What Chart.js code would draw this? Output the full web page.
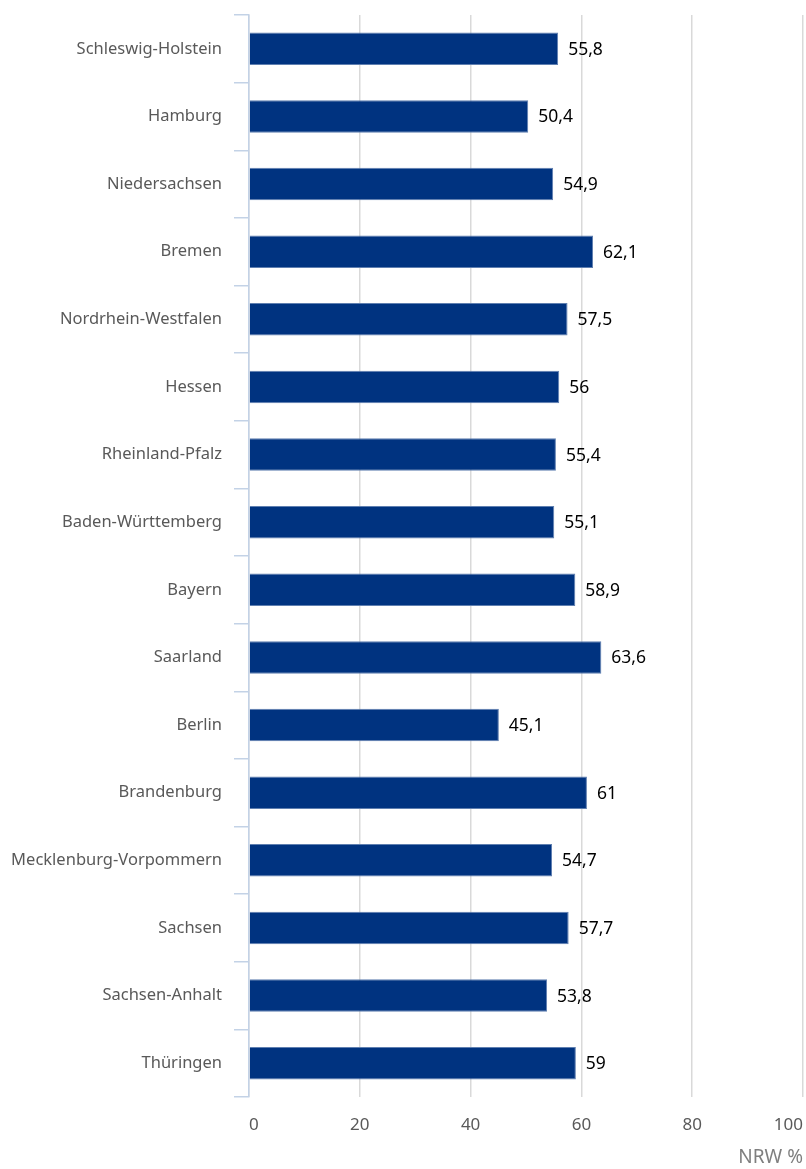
<!DOCTYPE html>
<html>
<head>
<meta charset="utf-8">
<script src="https://cdn.jsdelivr.net/npm/chart.js@4"></script>
<style>
  html, body { margin: 0; padding: 0; background: #fff; }
  #wrap { width: 806px; height: 1169px; }
</style>
</head>
<body>
<div id="wrap"><canvas id="nrwChart"></canvas></div>
<script>
const states = [
  'Schleswig-Holstein', 'Hamburg', 'Niedersachsen', 'Bremen',
  'Nordrhein-Westfalen', 'Hessen', 'Rheinland-Pfalz', 'Baden-Württemberg',
  'Bayern', 'Saarland', 'Berlin', 'Brandenburg',
  'Mecklenburg-Vorpommern', 'Sachsen', 'Sachsen-Anhalt', 'Thüringen'
];
const nrwValues = [55.8, 50.4, 54.9, 62.1, 57.5, 56, 55.4, 55.1, 58.9, 63.6, 45.1, 61, 54.7, 57.7, 53.8, 59];
const xTicks = [0, 20, 40, 60, 80, 100];

const fontFamily = "'Noto Sans', 'Open Sans', sans-serif";

// labels at the end of each bar, German number format
const barValueLabels = {
  id: 'barValueLabels',
  afterDatasetsDraw(chart) {
    const ctx = chart.ctx;
    const meta = chart.getDatasetMeta(0);
    ctx.save();
    ctx.font = '17.5px ' + fontFamily;
    ctx.fillStyle = '#000';
    ctx.textAlign = 'left';
    ctx.textBaseline = 'middle';
    meta.data.forEach((bar, i) => {
      const txt = String(nrwValues[i]).replace('.', ',');
      ctx.fillText(txt, bar.x + 10, bar.y + 1);
    });
    ctx.restore();
  }
};

const ctx = document.getElementById('nrwChart').getContext('2d');
const chart = new Chart(ctx, {
  type: 'bar',
  data: {
    labels: states,
    datasets: [{
      label: 'NRW %',
      data: nrwValues,
      backgroundColor: '#003380',
      borderColor: '#5f7fb0',
      borderWidth: 1,
      barPercentage: 0.48,
      categoryPercentage: 1
    }]
  },
  options: {
    indexAxis: 'y',
    responsive: true,
    maintainAspectRatio: false,
    animation: false,
    layout: { padding: { top: 15, right: 3, left: 0, bottom: 0 } },
    plugins: {
      legend: { display: false },
      tooltip: { enabled: false }
    },
    scales: {
      x: {
        min: 0,
        max: 100,
        afterBuildTicks: (scale) => { scale.ticks = xTicks.map(v => ({ value: v })); },
        afterFit: (scale) => {
          scale.height = 72;
          scale.paddingLeft = 0;
          scale.paddingRight = 0;
        },
        border: { display: false },
        grid: { color: '#d9d9d9', lineWidth: 1.5, drawTicks: false },
        ticks: {
          align: 'inner',
          padding: 18,
          color: '#595959',
          font: { family: fontFamily, size: 17 }
        },
        title: {
          display: true,
          text: 'NRW %',
          align: 'end',
          color: '#7f7f7f',
          padding: { top: 4, bottom: 0 },
          font: { family: fontFamily, size: 19 }
        }
      },
      y: {
        afterFit: (scale) => {
          scale.width = 249;
          scale.paddingTop = 0;
          scale.paddingBottom = 0;
        },
        border: { display: true, color: '#c3d2e6', width: 1.5 },
        grid: {
          offset: true,
          drawOnChartArea: false,
          tickLength: 15,
          color: '#c3d2e6',
          lineWidth: 1.5
        },
        ticks: {
          padding: 12,
          color: '#595959',
          font: { family: fontFamily, size: 16.5 }
        }
      }
    }
  },
  plugins: [barValueLabels]
});
</script>
</body>
</html>
